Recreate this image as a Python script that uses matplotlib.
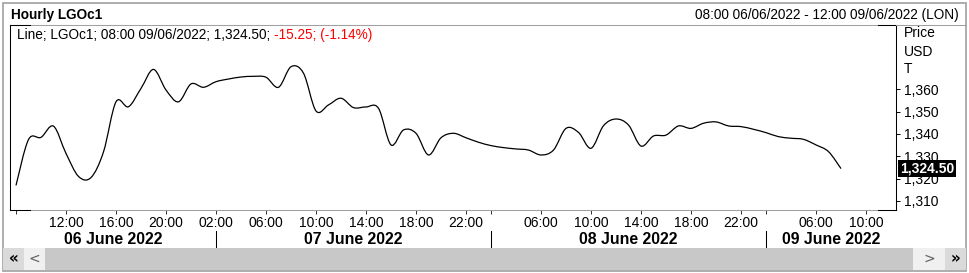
import numpy as np
import matplotlib.pyplot as plt
import matplotlib.transforms as mtrans
from matplotlib.lines import Line2D
from matplotlib.patches import Rectangle, PathPatch
from matplotlib.path import Path

plt.rcParams['font.family'] = ['Liberation Sans', 'DejaVu Sans']

W, H = 969, 273

# LGOc1 hourly closes, trading hours only, from 08:00 06/06/2022 to 08:00 09/06/2022
price = [1317.0, 1337.5, 1338.5, 1343.5, 1331.3, 1321.0, 1320.5, 1332.0, 1354.4, 1352.2,
         1360.4, 1368.9, 1359.7, 1354.4, 1362.4, 1360.9, 1363.4, 1364.6, 1365.5, 1365.8,
         1365.4, 1360.9, 1370.1, 1367.2, 1350.3, 1353.0, 1356.0, 1351.8, 1352.1, 1351.5,
         1335.1, 1341.8, 1340.3, 1330.6, 1338.3, 1340.3, 1338.3, 1336.3, 1334.8, 1333.9,
         1333.3, 1332.8, 1330.6, 1332.8, 1342.5, 1340.7, 1333.6, 1343.7, 1346.7, 1344.0,
         1334.6, 1339.1, 1339.5, 1343.6, 1342.5, 1344.8, 1345.4, 1343.6, 1343.3, 1342.1,
         1340.6, 1338.8, 1338.1, 1337.6, 1335.1, 1332.1, 1324.5]
x = np.arange(len(price))

tick_pos = [0, 4, 8, 12, 16, 20, 24, 28, 32, 36, 38, 42, 46, 50, 54, 58, 60, 64, 68]
tick_lab = ['', '12:00', '16:00', '20:00', '02:00', '06:00', '10:00', '14:00', '18:00',
            '22:00', '', '06:00', '10:00', '14:00', '18:00', '22:00', '', '06:00', '10:00']
day_sep = [16, 38, 60]
day_lab = ['06 June 2022', '07 June 2022', '08 June 2022', '09 June 2022']
yticks = [1310, 1320, 1330, 1340, 1350, 1360]
last_txt = '1,324.50'

GRAY = '#a0a0a0'


def fx(px):
    return px / W


def fy(py):
    return 1 - py / H


def fline(x0, y0, x1, y1, color='black', lw=0.75):
    fig.add_artist(Line2D([fx(x0), fx(x1)], [fy(y0), fy(y1)], color=color, lw=lw,
                          transform=fig.transFigure))


def frect(x0, y0, x1, y1, color):
    fig.add_artist(Rectangle((fx(x0), fy(y1)), fx(x1) - fx(x0), fy(y0) - fy(y1),
                             facecolor=color, edgecolor='none', transform=fig.transFigure))


def smooth_path(xs, ys):
    # cubic Bezier through every data point (Catmull-Rom style handles)
    p = np.column_stack([xs, ys]).astype(float)
    n = len(p)
    verts = [p[0]]
    codes = [Path.MOVETO]
    for i in range(n - 1):
        a = p[max(i - 1, 0)]
        b = p[i]
        c = p[i + 1]
        d = p[min(i + 2, n - 1)]
        verts += [b + (c - a) / 6, c - (d - b) / 6, c]
        codes += [Path.CURVE4] * 3
    return Path(verts, codes)


fig = plt.figure(figsize=(W / 100, H / 100), dpi=100)
ax = fig.add_axes([fx(9.5), fy(210), (896 - 9.5) / W, (210 - 25) / H])
ax.add_patch(PathPatch(smooth_path(x, price), facecolor='none', edgecolor='black', lw=0.9))
ax.set_xlim(-0.52, 70.4)
ax.set_ylim(1305.97, 1388.78)

ax.set_xticks(tick_pos, tick_lab)
ax.tick_params(axis='x', length=3, width=0.7, pad=1, labelsize=10, color='#303030')
ax.yaxis.tick_right()
ax.set_yticks(yticks, [f'{v:,}' for v in yticks])
ax.tick_params(axis='y', length=3, width=0.7, pad=3, labelsize=10)

for s in ['left', 'right']:
    ax.spines[s].set_color('black')
    ax.spines[s].set_linewidth(0.75)
for s in ['top', 'bottom']:
    ax.spines[s].set_color(GRAY)
    ax.spines[s].set_linewidth(0.75)

# black corner pieces of the frame
fline(9.5, 25, 30, 25)
fline(9.5, 210, 30, 210)
fline(878, 25, 896, 25)
fline(878, 210, 896, 210)
# header rule and window border
fline(896, 25, 966, 25, color=GRAY)
fig.add_artist(Rectangle((fx(2.5), fy(271)), fx(966) - fx(2.5), fy(2.5) - fy(271),
                         facecolor='none', edgecolor=GRAY, lw=1.2, transform=fig.transFigure))

# day labels and separators
tr = mtrans.blended_transform_factory(ax.transData, fig.transFigure)
edges = [ax.get_xlim()[0]] + day_sep + [ax.get_xlim()[1]]
for i, lab in enumerate(day_lab):
    ax.text((edges[i] + edges[i + 1]) / 2, fy(240), lab, transform=tr, ha='center',
            va='center', fontsize=11.4, fontweight='bold', clip_on=False)
for s in day_sep:
    ax.add_artist(Line2D([s, s], [fy(231), fy(248)], color='black', lw=0.75,
                         transform=tr, clip_on=False))

# last price tag
ax.text(1 + 4 / 886.5, price[-1], last_txt, transform=mtrans.blended_transform_factory(
    ax.transAxes, ax.transData), ha='left', va='center', fontsize=10, fontweight='bold',
    color='white', bbox=dict(boxstyle='square,pad=0.12', fc='black', ec='none'))

# right axis header
for lab, py in [('Price', 33), ('USD', 51.5), ('T', 69)]:
    fig.text(fx(904), fy(py), lab, ha='left', va='center', fontsize=10)

# title and range
fig.text(fx(11), fy(15), 'Hourly LGOc1', ha='left', va='center', fontsize=9.8, fontweight='bold')
fig.text(fx(959), fy(15), '08:00 06/06/2022 - 12:00 09/06/2022 (LON)', ha='right',
         va='center', fontsize=9.8)

# legend line, black then red part
t1 = fig.text(fx(17), fy(35), 'Line; LGOc1; 08:00 09/06/2022; 1,324.50; ', ha='left',
              va='center', fontsize=9.8)
fig.canvas.draw()
bb = t1.get_window_extent()
fig.text(bb.x1 / fig.bbox.width, fy(35), '-15.25; (-1.14%)', ha='left', va='center',
         fontsize=9.8, color='#ff0000')

# scroll bar
frect(3, 248, 966, 270, '#c8c8c8')
frect(3, 248, 24, 270, '#dadada')
frect(24, 248, 45, 270, '#f0f0f0')
frect(913, 248, 945, 270, '#f0f0f0')
frect(945, 248, 966, 270, '#dadada')
fig.text(fx(13.5), fy(259), '«', ha='center', va='center', fontsize=11, fontweight='bold',
         family='DejaVu Sans')
fig.text(fx(34.5), fy(259), '<', ha='center', va='center', fontsize=10, color='#606060',
         family='DejaVu Sans')
fig.text(fx(929), fy(259), '>', ha='center', va='center', fontsize=10, color='#606060',
         family='DejaVu Sans')
fig.text(fx(955.5), fy(259), '»', ha='center', va='center', fontsize=11, fontweight='bold',
         family='DejaVu Sans')

fig.savefig('out.png', dpi=100)
